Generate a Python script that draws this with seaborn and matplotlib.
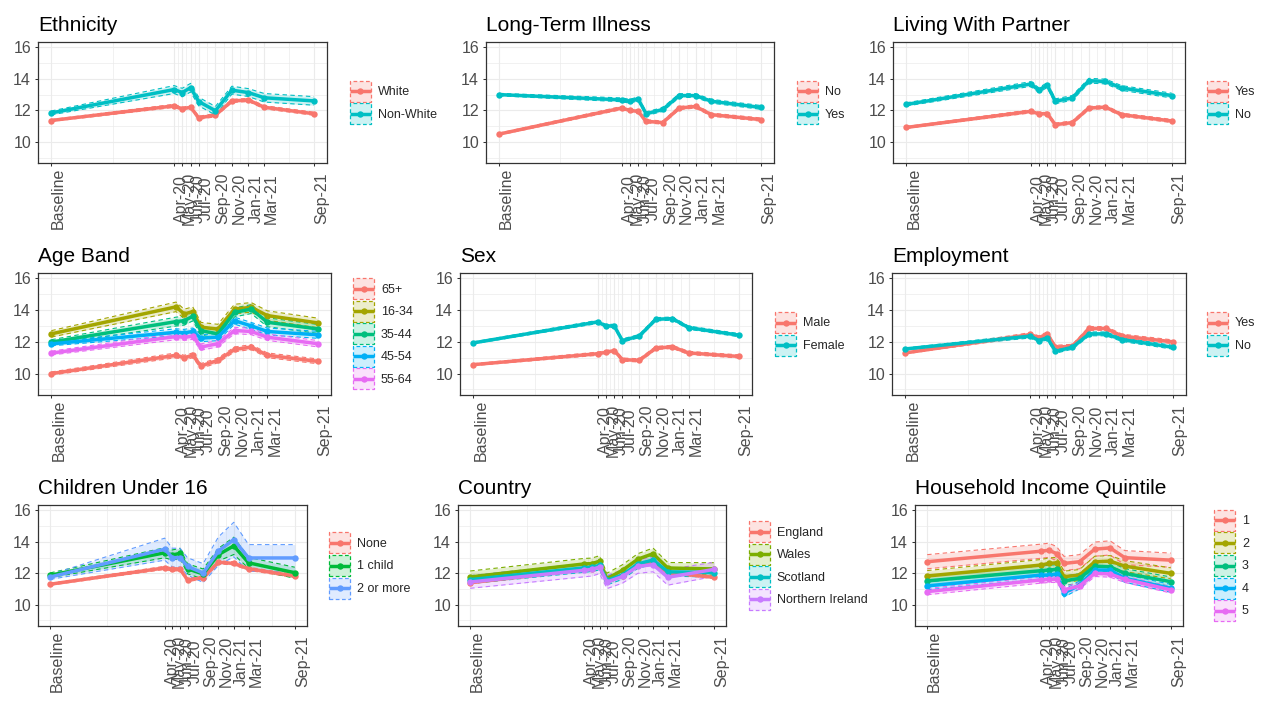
import numpy as np
import pandas as pd
import matplotlib
matplotlib.use("Agg")
import matplotlib.pyplot as plt
import matplotlib.dates as mdates
import seaborn as sns
from matplotlib.legend_handler import HandlerBase
from matplotlib.patches import Rectangle
from matplotlib.lines import Line2D
from matplotlib.colors import to_rgba

# ---------------- data ----------------
WAVE_DATES = ["2019-01-01", "2020-04-01", "2020-05-01", "2020-06-01", "2020-07-01",
              "2020-09-01", "2020-11-01", "2021-01-01", "2021-03-01", "2021-09-01"]
WAVE_LABELS = ["Baseline", "Apr-20", "May-20", "Jun-20", "Jul-20",
               "Sep-20", "Nov-20", "Jan-21", "Mar-21", "Sep-21"]

ETH_GROUPS = ["White", "Non-White"]
ETH_MEAN = {"White":     [11.36, 12.29, 12.10, 12.20, 11.53, 11.70, 12.60, 12.66, 12.20, 11.79],
            "Non-White": [11.84, 13.32, 13.13, 13.44, 12.56, 11.98, 13.28, 13.13, 12.80, 12.60]}
ETH_CI = {"White":     [0.06, 0.10, 0.10, 0.10, 0.10, 0.10, 0.10, 0.10, 0.10, 0.10],
          "Non-White": [0.12, 0.25, 0.27, 0.27, 0.27, 0.27, 0.25, 0.25, 0.27, 0.27]}

LTI_GROUPS = ["No", "Yes"]
LTI_MEAN = {"No":  [10.50, 12.15, 12.00, 11.94, 11.31, 11.23, 12.15, 12.25, 11.73, 11.42],
            "Yes": [13.00, 12.67, 12.58, 12.73, 11.79, 12.06, 12.94, 12.94, 12.58, 12.19]}
LTI_CI = {"No":  [0.06, 0.10, 0.10, 0.10, 0.10, 0.10, 0.10, 0.10, 0.10, 0.10],
          "Yes": [0.08, 0.12, 0.12, 0.12, 0.12, 0.12, 0.12, 0.12, 0.12, 0.12]}

LWP_GROUPS = ["Yes", "No"]
LWP_MEAN = {"Yes": [10.92, 11.94, 11.79, 11.79, 11.10, 11.23, 12.15, 12.21, 11.73, 11.33],
            "No":  [12.38, 13.67, 13.29, 13.60, 12.58, 12.79, 13.88, 13.83, 13.42, 12.94]}
LWP_CI = {"Yes": [0.06, 0.10, 0.10, 0.10, 0.10, 0.10, 0.10, 0.10, 0.10, 0.10],
          "No":  [0.10, 0.15, 0.15, 0.15, 0.15, 0.15, 0.15, 0.15, 0.15, 0.15]}

AGE_GROUPS = ["65+", "16-34", "35-44", "45-54", "55-64"]
AGE_MEAN = {"65+":   [10.00, 11.15, 11.00, 11.15, 10.48, 10.83, 11.52, 11.67, 11.15, 10.77],
            "16-34": [12.50, 14.20, 13.75, 13.90, 12.92, 12.80, 14.06, 14.17, 13.65, 13.19],
            "35-44": [11.98, 13.27, 13.33, 13.60, 12.70, 12.50, 13.85, 14.06, 13.23, 12.81],
            "45-54": [11.87, 12.60, 12.56, 12.65, 12.23, 12.29, 13.33, 13.00, 12.65, 12.44],
            "55-64": [11.29, 12.33, 12.29, 12.35, 11.67, 11.88, 12.71, 12.65, 12.29, 11.88]}
AGE_CI = {"65+":   [0.10, 0.15, 0.15, 0.15, 0.15, 0.15, 0.15, 0.15, 0.15, 0.15],
          "16-34": [0.20, 0.30, 0.30, 0.30, 0.30, 0.30, 0.30, 0.30, 0.30, 0.30],
          "35-44": [0.15, 0.28, 0.28, 0.28, 0.28, 0.28, 0.28, 0.28, 0.28, 0.28],
          "45-54": [0.12, 0.22, 0.22, 0.22, 0.22, 0.22, 0.22, 0.22, 0.22, 0.22],
          "55-64": [0.12, 0.20, 0.20, 0.20, 0.20, 0.20, 0.20, 0.20, 0.20, 0.20]}

SEX_GROUPS = ["Male", "Female"]
SEX_MEAN = {"Male":   [10.56, 11.25, 11.34, 11.45, 10.88, 10.83, 11.61, 11.68, 11.30, 11.08],
            "Female": [11.93, 13.25, 13.00, 13.00, 12.08, 12.36, 13.42, 13.46, 12.89, 12.42]}
SEX_CI = {"Male":   [0.06, 0.10, 0.10, 0.10, 0.10, 0.10, 0.10, 0.10, 0.10, 0.10],
          "Female": [0.06, 0.10, 0.10, 0.10, 0.10, 0.10, 0.10, 0.10, 0.10, 0.10]}

EMP_GROUPS = ["Yes", "No"]
EMP_MEAN = {"Yes": [11.30, 12.46, 12.25, 12.50, 11.66, 11.72, 12.84, 12.84, 12.36, 12.00],
            "No":  [11.55, 12.36, 12.08, 12.25, 11.40, 11.66, 12.50, 12.50, 12.14, 11.66]}
EMP_CI = {"Yes": [0.06, 0.12, 0.12, 0.12, 0.12, 0.12, 0.12, 0.12, 0.12, 0.12],
          "No":  [0.06, 0.12, 0.12, 0.12, 0.12, 0.12, 0.12, 0.12, 0.12, 0.12]}

CHI_GROUPS = ["None", "1 child", "2 or more"]
CHI_MEAN = {"None":      [11.31, 12.35, 12.25, 12.27, 11.58, 11.73, 12.71, 12.63, 12.29, 11.83],
            "1 child":   [11.88, 13.31, 13.17, 13.27, 12.29, 11.96, 13.19, 13.75, 12.67, 12.04],
            "2 or more": [11.77, 13.54, 13.00, 13.00, 12.44, 12.02, 13.42, 14.15, 12.98, 12.98]}
CHI_CI = {"None":      [0.06, 0.10, 0.10, 0.10, 0.10, 0.10, 0.10, 0.10, 0.10, 0.10],
          "1 child":   [0.15, 0.32, 0.32, 0.32, 0.32, 0.32, 0.40, 0.55, 0.35, 0.35],
          "2 or more": [0.15, 0.70, 0.60, 0.60, 0.55, 0.60, 0.90, 1.10, 0.85, 0.85]}

CTY_GROUPS = ["England", "Wales", "Scotland", "Northern Ireland"]
CTY_MEAN = {"England":          [11.40, 12.25, 12.30, 12.45, 11.58, 11.85, 12.50, 12.70, 12.05, 11.75],
            "Wales":            [11.77, 12.60, 12.62, 12.77, 11.66, 12.20, 12.90, 13.25, 12.34, 12.28],
            "Scotland":         [11.60, 12.35, 12.40, 12.50, 11.55, 11.90, 12.60, 12.85, 12.10, 12.05],
            "Northern Ireland": [11.45, 12.20, 12.25, 12.40, 11.45, 11.80, 12.45, 12.55, 11.75, 12.25]}
CTY_CI = {"England":          [0.05, 0.08, 0.08, 0.08, 0.08, 0.08, 0.08, 0.08, 0.08, 0.08],
          "Wales":            [0.38, 0.35, 0.35, 0.35, 0.35, 0.35, 0.35, 0.36, 0.35, 0.40],
          "Scotland":         [0.25, 0.28, 0.28, 0.28, 0.28, 0.28, 0.28, 0.28, 0.28, 0.28],
          "Northern Ireland": [0.40, 0.42, 0.42, 0.42, 0.42, 0.42, 0.45, 0.45, 0.50, 0.45]}

INC_GROUPS = ["1", "2", "3", "4", "5"]
INC_MEAN = {"1": [12.74, 13.41, 13.47, 13.26, 12.63, 12.74, 13.54, 13.62, 13.00, 12.84],
            "2": [11.83, 12.53, 12.63, 12.67, 11.79, 11.89, 12.74, 12.78, 12.46, 12.00],
            "3": [11.52, 12.17, 12.21, 12.25, 11.52, 11.68, 12.46, 12.42, 12.00, 11.47],
            "4": [11.20, 11.89, 11.89, 11.96, 10.75, 11.26, 12.21, 12.21, 11.68, 11.05],
            "5": [10.84, 11.58, 11.62, 11.62, 10.95, 11.20, 12.00, 11.96, 11.62, 10.95]}
INC_CI = {"1": [0.45] * 10,
          "2": [0.35] * 10,
          "3": [0.30] * 10,
          "4": [0.25] * 10,
          "5": [0.20] * 10}

PALETTES = {2: ["#F8766D", "#00BFC4"],
            3: ["#F8766D", "#00BA38", "#619CFF"],
            4: ["#F8766D", "#7CAE00", "#00BFC4", "#C77CFF"],
            5: ["#F8766D", "#A3A500", "#00BF7D", "#00B0F6", "#E76BF3"]}

# title, groups, means, cis, panel rect (left, top, right, bottom px), legend key left px
PANELS = [
    ("Ethnicity", ETH_GROUPS, ETH_MEAN, ETH_CI, (38, 41.7, 327, 163.3), 350),
    ("Long-Term Illness", LTI_GROUPS, LTI_MEAN, LTI_CI, (486, 41.7, 774, 163.3), 797),
    ("Living With Partner", LWP_GROUPS, LWP_MEAN, LWP_CI, (893, 41.7, 1185, 163.3), 1207),
    ("Age Band", AGE_GROUPS, AGE_MEAN, AGE_CI, (38, 272.7, 331, 395), 353),
    ("Sex", SEX_GROUPS, SEX_MEAN, SEX_CI, (460, 272.7, 752, 395), 775),
    ("Employment", EMP_GROUPS, EMP_MEAN, EMP_CI, (892, 272.7, 1186, 395), 1207),
    ("Children Under 16", CHI_GROUPS, CHI_MEAN, CHI_CI, (38, 505, 307, 626), 329),
    ("Country", CTY_GROUPS, CTY_MEAN, CTY_CI, (458, 505, 726, 626), 749),
    ("Household Income Quintile", INC_GROUPS, INC_MEAN, INC_CI, (915, 505, 1183, 626), 1214),
]

# ---------------- style ----------------
sns.set_theme(style="white")
plt.rcParams["font.family"] = ["Liberation Sans", "DejaVu Sans"]

W, H = 1280, 709
fig = plt.figure(figsize=(W / 100, H / 100), dpi=100)
fig.patch.set_facecolor("white")

GRID = "#EBEBEB"
DARK = "#333333"
TXT = "#4D4D4D"
LINE_W = 2.5
MARK_S = 4.6


class KeyHandler(HandlerBase):
    def create_artists(self, legend, orig_handle, xdescent, ydescent, width, height, fontsize, trans):
        c = orig_handle.get_color()
        rect = Rectangle((-xdescent, -ydescent), width, height,
                         facecolor=to_rgba(c, 0.2), edgecolor=c,
                         linestyle=(0, (3, 2)), linewidth=0.9, transform=trans)
        yc = -ydescent + height / 2
        ln = Line2D([-xdescent, -xdescent + width], [yc, yc], color=c, lw=LINE_W,
                    solid_capstyle="butt", transform=trans)
        pt = Line2D([-xdescent + width / 2], [yc], marker="o", ms=MARK_S,
                    markeredgewidth=0, color=c, lw=0, transform=trans)
        return [rect, ln, pt]


dates = pd.to_datetime(WAVE_DATES)
xnum = mdates.date2num(dates)
span = xnum[-1] - xnum[0]
xlim = (xnum[0] - 0.05 * span, xnum[-1] + 0.05 * span)
mids = (xnum[:-1] + xnum[1:]) / 2
ylim = (9 - 0.35, 16 + 0.35)

for title, groups, means, cis, (l, t, r, b), key_x in PANELS:
    ax = fig.add_axes([l / W, 1 - b / H, (r - l) / W, (b - t) / H])
    rows = []
    for g in groups:
        for d, m, c in zip(dates, means[g], cis[g]):
            rows.append({"date": d, "group": g, "score": m, "lo": m - c, "hi": m + c})
    df = pd.DataFrame(rows)
    colors = PALETTES[len(groups)]

    for g, col in zip(groups, colors):
        sub = df[df["group"] == g]
        ax.fill_between(sub["date"], sub["lo"], sub["hi"], color=col, alpha=0.2, lw=0, zorder=2)
        ax.plot(sub["date"], sub["lo"], color=col, lw=0.8, ls=(0, (4, 3)), zorder=2.5)
        ax.plot(sub["date"], sub["hi"], color=col, lw=0.8, ls=(0, (4, 3)), zorder=2.5)

    sns.lineplot(data=df, x="date", y="score", hue="group", hue_order=groups,
                 palette=colors, linewidth=LINE_W, marker="o", markersize=MARK_S,
                 markeredgewidth=0, legend=False, ax=ax, estimator=None,
                 errorbar=None, zorder=3)

    ax.set_xlim(xlim)
    ax.set_ylim(ylim)
    ax.set_xlabel("")
    ax.set_ylabel("")
    ax.set_xticks(xnum)
    ax.set_xticks(mids, minor=True)
    ax.set_xticklabels(WAVE_LABELS)
    ax.set_yticks([10, 12, 14, 16])
    ax.set_yticks([9, 11, 13, 15], minor=True)
    ax.set_yticklabels(["10", "12", "14", "16"])
    ax.grid(which="major", color=GRID, lw=0.8)
    ax.grid(which="minor", color=GRID, lw=0.5)
    ax.set_axisbelow(True)
    ax.set_facecolor("white")
    for s in ax.spines.values():
        s.set_color(DARK)
        s.set_linewidth(0.9)
        s.set_visible(True)
    ax.tick_params(which="minor", length=0)
    ax.tick_params(axis="y", which="major", length=2.5, width=0.75, color=DARK,
                   pad=2.5, labelsize=11.5, labelcolor=TXT, left=True)
    ax.tick_params(axis="x", which="major", length=2.5, width=0.75, color=DARK,
                   pad=23.0, labelsize=11.5, labelcolor=TXT, bottom=True)
    for lab in ax.get_xticklabels():
        lab.set_rotation(90)
        lab.set_ha("left")
        lab.set_va("center")

    ax.set_title(title, loc="left", fontsize=15, pad=8, color="black")

    handles = [Line2D([], [], color=c) for c in colors]
    ax.legend(handles, groups, handler_map={Line2D: KeyHandler()},
              loc="center left", bbox_to_anchor=((key_x - l) / (r - l), 0.5),
              frameon=False, borderpad=0, borderaxespad=0,
              handlelength=1.68, handleheight=2.21, labelspacing=0.12,
              handletextpad=0.55, fontsize=9)

fig.savefig("out.png", dpi=100, facecolor="white")
